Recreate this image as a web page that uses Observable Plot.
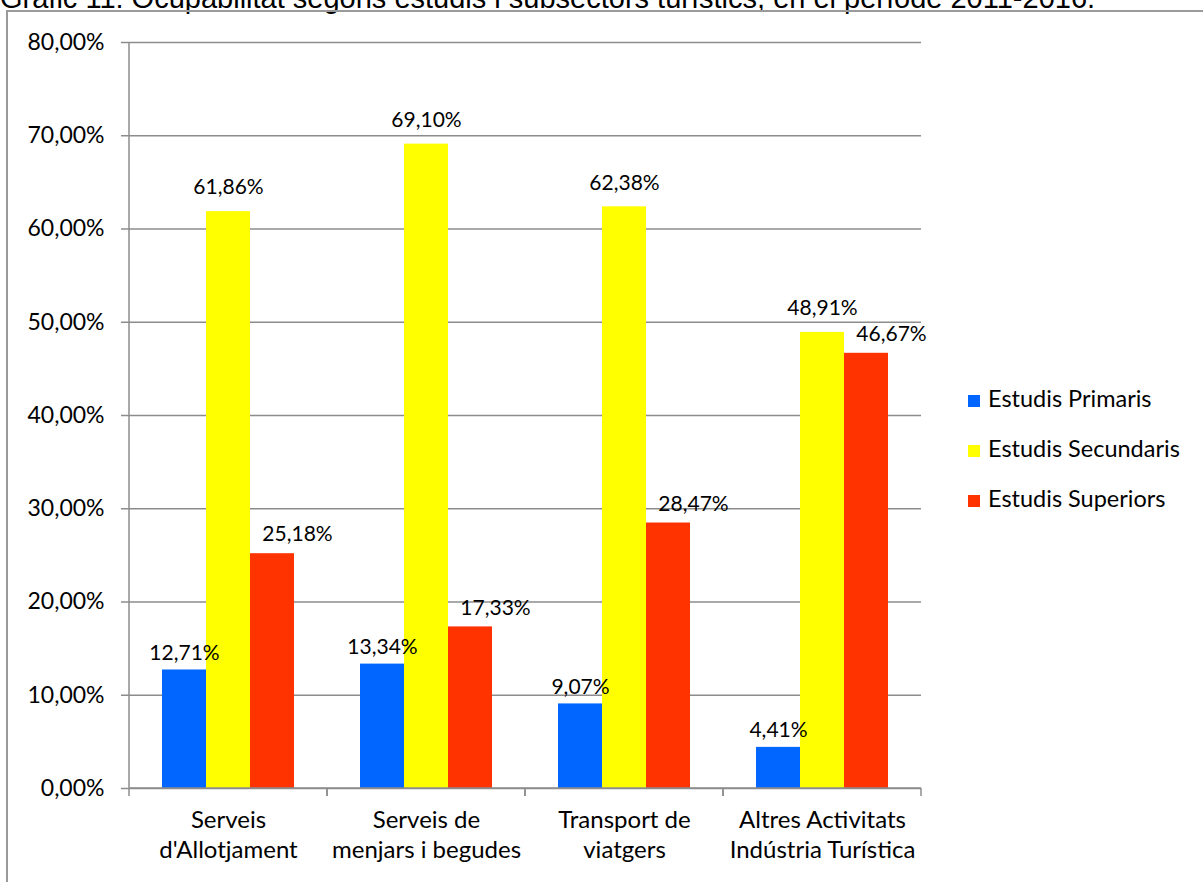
<!DOCTYPE html>
<html>
<head>
<meta charset="utf-8">
<script src="https://cdn.jsdelivr.net/npm/d3@7"></script>
<script src="https://cdn.jsdelivr.net/npm/@observablehq/plot@0.6"></script>
<style>
  html, body { margin: 0; padding: 0; background: #fff; overflow: hidden; }
  #wrap { position: relative; width: 1203px; height: 882px; overflow: hidden; }
  #title { position: absolute; left: 0; top: -16px; font: 29px "Liberation Sans", Arial, sans-serif; line-height: 29px; white-space: nowrap; color: #000; }
  #frame { position: absolute; left: 6px; top: 10px; width: 1400px; height: 1000px; border: 2px solid #9a9a9a; box-sizing: border-box; }
  #chart { position: absolute; left: 0; top: 0; }
  #legend { position: absolute; left: 968px; top: 384px; font: 23.5px Lato, sans-serif; color: #000; }
  .li { height: 50px; display: flex; align-items: flex-start; }
  .sw { width: 12px; height: 12px; margin-right: 8px; margin-top: 11px; }
</style>
</head>
<body>
<div id="wrap">
  <div id="title">Gràfic 11: Ocupabilitat segons estudis i subsectors turístics, en el període 2011-2016.</div>
  <div id="frame"></div>
  <div id="chart"></div>
  <div id="legend"></div>
</div>
<script>
const categories = ["Serveis d'Allotjament", "Serveis de menjars i begudes", "Transport de viatgers", "Altres Activitats Indústria Turística"];
const categoryLabels = ["Serveis\nd'Allotjament", "Serveis de\nmenjars i begudes", "Transport de\nviatgers", "Altres Activitats\nIndústria Turística"];
const series = ["Estudis Primaris", "Estudis Secundaris", "Estudis Superiors"];
const colors = ["#0066FF", "#FFFF00", "#FF3300"];
const primaris = [12.71, 13.34, 9.07, 4.41];
const secundaris = [61.86, 69.10, 62.38, 48.91];
const superiors = [25.18, 17.33, 28.47, 46.67];
const yTicks = [0, 10, 20, 30, 40, 50, 60, 70, 80];

const values = [primaris, secundaris, superiors];
const data = [];
series.forEach((s, si) => categories.forEach((c, ci) => data.push({cat: c, serie: s, value: values[si][ci]})));

const fmt = v => v.toFixed(2).replace(".", ",") + "%";
const font = "Lato, sans-serif";
const lineColor = "#8c8c8c";

// Axis line + category boundary ticks, drawn per facet in local coordinates.
let firstFacetSeen = false;
const axisLines = (index, scales, vals, dims) => {
  const g = d3.create("svg:g");
  const y = scales.y;
  const left = dims.marginLeft;
  const right = dims.width - dims.marginRight;
  const y0 = y(0), y1 = y(80);
  const isFirst = (index && index.fx !== undefined) ? index.fx === categories[0] : !firstFacetSeen;
  firstFacetSeen = true;
  if (isFirst) {
    g.append("line").attr("x1", left).attr("x2", left).attr("y1", y1).attr("y2", y0)
      .attr("stroke", lineColor).attr("stroke-width", 1.5);
  }
  g.append("line").attr("x1", left).attr("x2", right).attr("y1", y0).attr("y2", y0)
    .attr("stroke", lineColor).attr("stroke-width", 1.5);
  for (const x of [left, right]) {
    g.append("line").attr("x1", x).attr("x2", x).attr("y1", y0).attr("y2", y0 + 8)
      .attr("stroke", lineColor).attr("stroke-width", 1.5);
  }
  return g.node();
};

const chart = Plot.plot({
  width: 1203,
  height: 882,
  marginLeft: 128,
  marginRight: 281,
  marginTop: 42,
  marginBottom: 94,
  facetMarginLeft: 0, facetMarginRight: 0, facetMarginTop: 0, facetMarginBottom: 0,
  style: {fontFamily: font, background: "transparent", overflow: "visible"},
  fx: {domain: categories, padding: 0, label: null},
  x: {domain: series, paddingInner: 0, paddingOuter: 0.72, axis: null},
  y: {domain: [0, 80], label: null},
  color: {domain: series, range: colors},
  marks: [
    Plot.gridY(yTicks, {stroke: lineColor, strokeOpacity: 1, strokeWidth: 1.5}),
    Plot.axisY(yTicks, {tickSize: 8, tickPadding: 17, tickFormat: fmt, fontSize: 23, stroke: lineColor, strokeWidth: 1.5, fill: "#000", label: null}),
    Plot.axisFx({anchor: "bottom", tickSize: 0, tickPadding: 18, fontSize: 24, lineHeight: 1.25, fill: "#000", label: null,
      tickFormat: c => categoryLabels[categories.indexOf(c)]}),
    Plot.barY(data, {fx: "cat", x: "serie", y: "value", fill: "serie"}),
    axisLines,
    Plot.text(data.filter(d => d.serie === series[0]), {fx: "cat", x: "serie", y: "value", text: d => fmt(d.value), dy: -17, fontSize: 21, fill: "#000"}),
    Plot.text(data.filter(d => d.serie === series[1]), {fx: "cat", x: "serie", y: "value", text: d => fmt(d.value), dy: -24, fontSize: 21, fill: "#000"}),
    Plot.text(data.filter(d => d.serie === series[2]), {fx: "cat", x: "serie", y: "value", text: d => fmt(d.value), dy: -19, dx: 25, fontSize: 21, fill: "#000"})
  ]
});
document.getElementById("chart").appendChild(chart);

const legend = document.getElementById("legend");
series.forEach((s, i) => {
  const row = document.createElement("div");
  row.className = "li";
  const sw = document.createElement("div");
  sw.className = "sw";
  sw.style.background = colors[i];
  const t = document.createElement("span");
  t.textContent = s;
  row.appendChild(sw);
  row.appendChild(t);
  legend.appendChild(row);
});
</script>
</body>
</html>
